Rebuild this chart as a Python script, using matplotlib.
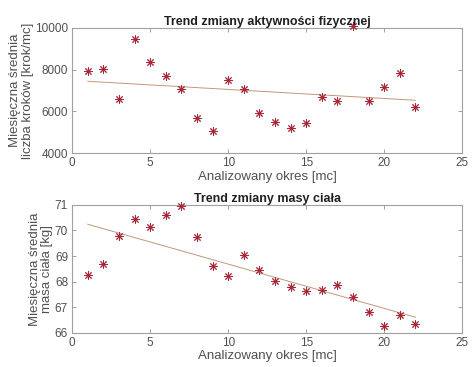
import matplotlib
matplotlib.use('Agg')
import matplotlib.pyplot as plt
import numpy as np

months = np.arange(1, 23)

steps = [7920, 8050, 6590, 9490, 8370, 7710, 7090, 5700, 5040, 7500, 7070,
         5920, 5500, 5200, 5420, 6690, 6510, 10110, 6500, 7170, 7840, 6220]

mass = [68.25, 68.69, 69.80, 70.44, 70.15, 70.60, 70.96, 69.73, 68.61, 68.23,
        69.05, 68.44, 68.04, 67.79, 67.62, 67.68, 67.85, 67.41, 66.81, 66.27,
        66.70, 66.34]

# trend line end values (x = 1 and x = 22)
steps_trend = [7440, 6530]
mass_trend = [70.24, 66.61]

plt.rcParams['font.family'] = ['Liberation Sans', 'DejaVu Sans']

gray = '#505050'
marker_color = '#a82838'
line_color = '#c0987c'


def style_axes(ax):
    for s in ax.spines.values():
        s.set_color('#a0a0a0')
        s.set_linewidth(0.8)
    ax.tick_params(direction='in', length=3, width=0.6, colors='#909090',
                   labelcolor=gray, labelsize=8.5, top=True, right=True, pad=3)


def draw(ax, y, trend, ylim, yticks, title, ylabel):
    ax.plot(months, y, linestyle='none', marker=(8, 2, 0), markersize=6,
            markeredgewidth=0.7, color=marker_color, clip_on=False, zorder=3)
    ax.plot([months[0], months[-1]], trend, color=line_color, linewidth=0.7)
    ax.set_xlim(0, 25)
    ax.set_ylim(*ylim)
    ax.set_xticks([0, 5, 10, 15, 20, 25])
    ax.set_yticks(yticks)
    ax.set_title(title, fontsize=9, fontweight='bold', color='#202020', pad=2)
    ax.set_xlabel('Analizowany okres [mc]', fontsize=9.5, color=gray, labelpad=1)
    ax.set_ylabel(ylabel, fontsize=9.5, color=gray, labelpad=1, linespacing=1.05)
    style_axes(ax)


fig = plt.figure(figsize=(4.75, 3.67), dpi=100)
ax1 = fig.add_axes([0.152, 0.583, 0.821, 0.341])
ax2 = fig.add_axes([0.152, 0.093, 0.821, 0.349])

draw(ax1, steps, steps_trend, (4000, 10000), [4000, 6000, 8000, 10000],
     'Trend zmiany aktywności fizycznej',
     'Miesięczna średnia\nliczba kroków [krok/mc]')
draw(ax2, mass, mass_trend, (66, 71), [66, 67, 68, 69, 70, 71],
     'Trend zmiany masy ciała',
     'Miesięczna średnia\nmasa ciała [kg]')

fig.savefig('out.png', dpi=100)
